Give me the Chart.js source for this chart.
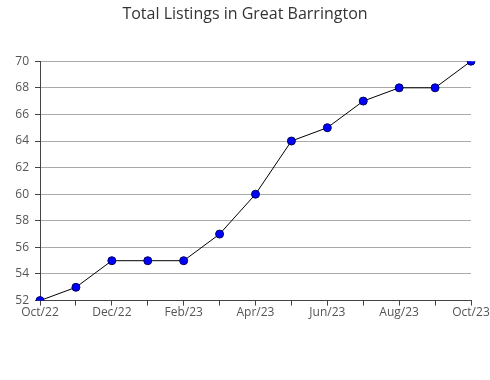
<!DOCTYPE html>
<html>
<head>
<meta charset="utf-8">
<script src="https://cdn.jsdelivr.net/npm/chart.js@4"></script>
<style>
html,body{margin:0;padding:0;background:#fff;}
#wrap{width:490px;height:380px;}
</style>
</head>
<body>
<div id="wrap"><canvas id="c" width="490" height="380"></canvas></div>
<script>
const months = ["Oct/22","Nov/22","Dec/22","Jan/23","Feb/23","Mar/23","Apr/23","May/23","Jun/23","Jul/23","Aug/23","Sep/23","Oct/23"];
const listings = [52,53,55,55,55,57,60,64,65,67,68,68,70];
const yMin = 52, yMax = 70;
const title = "Total Listings in Great Barrington";

new Chart(document.getElementById('c'), {
  type: 'line',
  data: {
    labels: months,
    datasets: [{
      data: listings,
      borderColor: '#000',
      borderWidth: 1,
      tension: 0,
      pointRadius: 4,
      pointHoverRadius: 4,
      pointBackgroundColor: '#0000ff',
      pointBorderColor: '#000066',
      pointBorderWidth: 1
    }]
  },
  options: {
    responsive: false,
    animation: false,
    layout: { padding: { left: 0, right: 0, top: 0, bottom: 60 } },
    plugins: {
      legend: { display: false },
      tooltip: { enabled: false },
      title: {
        display: true,
        text: title,
        color: '#333',
        font: { family: "'Open Sans', sans-serif", size: 16, weight: 'normal' },
        padding: { top: 5, bottom: 37 }
      }
    },
    scales: {
      x: {
        type: 'category',
        offset: false,
        afterFit: function(s) { s.paddingRight = 19; },
        border: { display: true, color: '#444', width: 1 },
        grid: { display: true, drawOnChartArea: false, drawTicks: true, tickLength: 5, tickColor: '#444' },
        ticks: {
          autoSkip: false,
          maxRotation: 0,
          padding: 0,
          color: '#555',
          font: { family: "'Open Sans', sans-serif", size: 12 },
          callback: function(v, i) { return i % 2 === 0 ? months[i] : ''; }
        }
      },
      y: {
        min: yMin,
        max: yMax,
        afterFit: function(s) { s.width = 40; },
        border: { display: true, color: '#444', width: 1 },
        grid: {
          drawTicks: true,
          tickLength: 5,
          tickColor: '#444',
          color: function(ctx) { return (ctx.tick && ctx.tick.value % 2 === 0) ? '#aaa' : 'rgba(0,0,0,0)'; }
        },
        ticks: {
          stepSize: 1,
          padding: 6,
          color: '#555',
          font: { family: "'Open Sans', sans-serif", size: 12 },
          callback: function(v) { return v % 2 === 0 ? v : ''; }
        }
      }
    }
  }
});
</script>
</body>
</html>
